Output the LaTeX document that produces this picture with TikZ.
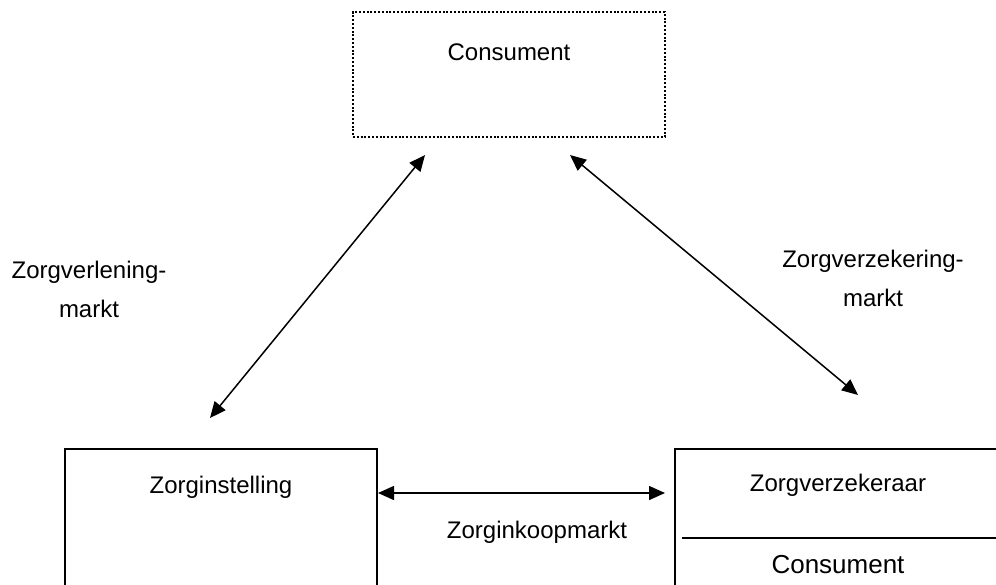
\documentclass[tikz,border=0pt]{standalone}
\usepackage{fontspec}
\setmainfont{Liberation Sans}
\usetikzlibrary{arrows.meta}
\begin{document}
\begin{tikzpicture}[x=0.5pt,y=-0.5pt,
  lbl/.style={font=\fontsize{12pt}{19.5pt}\selectfont, inner sep=0pt, align=center},
  biglbl/.style={font=\fontsize{13pt}{16pt}\selectfont, inner sep=0pt},
  boxline/.style={draw, line width=0.9pt},
  dotbox/.style={draw, line width=1pt, dash pattern=on 1pt off 0.9pt},
  dblarrow/.style={line width=0.75pt, {Triangle[length=8pt,width=7pt]}-{Triangle[length=8pt,width=7pt]}}]
\useasboundingbox (0,0) rectangle (996,584);
\clip (0,0) rectangle (996,584);
% top dotted box
\node[dotbox, minimum width=156pt, minimum height=62.5pt, inner sep=0pt] (top) at (509,74.5) {};
\node[lbl] (topt) at (509,52) {Consument};
% bottom left box
\draw[boxline] (65,600) -- (65,449) coordinate (zlt) -- (377,449) -- (377,600);
\node[lbl] (zi) at (221,487) {Zorginstelling};
% bottom right box
\draw[boxline] (675,600) -- (675,449) coordinate (zvt) -- (1010,449);
\coordinate (dl) at (682,538);
\coordinate (dr) at (996,538);
\draw[line width=0.9pt] (dl) -- (dr);
\node[lbl] (zv) at (838,485) {Zorgverzekeraar};
\node[biglbl] (zvc) at (838,565) {Consument};
% arrows
\coordinate (a1s) at (210,418);
\coordinate (a1e) at (425,155);
\draw[dblarrow] (a1s) -- (a1e);
\coordinate (a2s) at (570,155);
\coordinate (a2e) at (858,395);
\draw[dblarrow] (a2s) -- (a2e);
\coordinate (a3s) at (378,493);
\coordinate (a3e) at (665,493);
\draw[dblarrow] (a3s) -- (a3e);
% labels
\node[lbl] (l1) at (89,289) {Zorgverlening-\\markt};
\node[lbl] (l2) at (873,278) {Zorgverzekering-\\markt};
\node[lbl] (l3) at (537,532) {Zorginkoopmarkt};
\end{tikzpicture}
\end{document}
